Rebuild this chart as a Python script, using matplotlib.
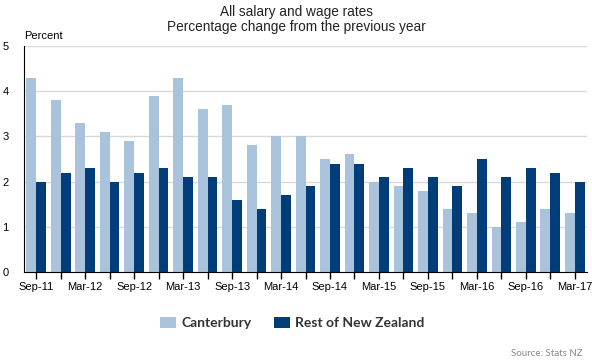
import numpy as np
import matplotlib.pyplot as plt

quarters = ['Sep-11', 'Dec-11', 'Mar-12', 'Jun-12', 'Sep-12', 'Dec-12', 'Mar-13', 'Jun-13',
            'Sep-13', 'Dec-13', 'Mar-14', 'Jun-14', 'Sep-14', 'Dec-14', 'Mar-15', 'Jun-15',
            'Sep-15', 'Dec-15', 'Mar-16', 'Jun-16', 'Sep-16', 'Dec-16', 'Mar-17']
canterbury = [4.3, 3.8, 3.3, 3.1, 2.9, 3.9, 4.3, 3.6, 3.7, 2.8, 3.0, 3.0,
              2.5, 2.6, 2.0, 1.9, 1.8, 1.4, 1.3, 1.0, 1.1, 1.4, 1.3]
rest_nz = [2.0, 2.2, 2.3, 2.0, 2.2, 2.3, 2.1, 2.1, 1.6, 1.4, 1.7, 1.9,
           2.4, 2.4, 2.1, 2.3, 2.1, 1.9, 2.5, 2.1, 2.3, 2.2, 2.0]
yticks = [0, 1, 2, 3, 4, 5]

plt.rcParams['font.family'] = ['Liberation Sans', 'DejaVu Sans']

fig = plt.figure(figsize=(5.92, 3.63), dpi=100)
ax = fig.add_axes([24/592, 1 - 272/363, 563/592, 226/363])

x = np.arange(len(quarters))
w = 0.4
ax.bar(x - w/2, canterbury, w, color='#a9c3dc', label='Canterbury', zorder=2)
ax.bar(x + w/2, rest_nz, w, color='#003d79', label='Rest of New Zealand', zorder=2)

ax.set_xlim(-0.5, len(quarters) - 0.5)
ax.set_ylim(0, 5)
ax.set_yticks(yticks)
ax.yaxis.grid(True, color='#d9d9d9', linewidth=1, zorder=0)
ax.tick_params(axis='y', length=0, labelsize=8, pad=11)

ax.set_xticks(x)
ax.set_xticklabels([q if i % 2 == 0 else '' for i, q in enumerate(quarters)], fontsize=8)
ax.tick_params(axis='x', length=5, width=1, color='black', direction='out', pad=2)

for s in ['top', 'right']:
    ax.spines[s].set_visible(False)
ax.spines['left'].set_color('black')
ax.spines['bottom'].set_color('black')

ax.text(0, 1.02, 'Percent', transform=ax.transAxes, fontsize=8, va='bottom', ha='left')

fig.text(0.5, 1 - 12/363, 'All salary and wage rates', ha='center', va='center',
         fontsize=9.8, color='#222222')
fig.text(0.5, 1 - 27/363, 'Percentage change from the previous year', ha='center', va='center',
         fontsize=9.8, color='#222222')

fig.legend(loc='center', bbox_to_anchor=(292/592, 1 - 323/363), ncol=2, frameon=False,
           prop={'family': 'Lato', 'weight': 'bold', 'size': 10}, labelcolor='#333333',
           handlelength=1.15, handleheight=0.86, columnspacing=1.6, handletextpad=0.36)

fig.text(0.985, 1 - 354/363, 'Source: Stats NZ', ha='right', va='center', fontsize=7,
         color='#888888', family='Lato')

fig.savefig('out.png', dpi=100)
